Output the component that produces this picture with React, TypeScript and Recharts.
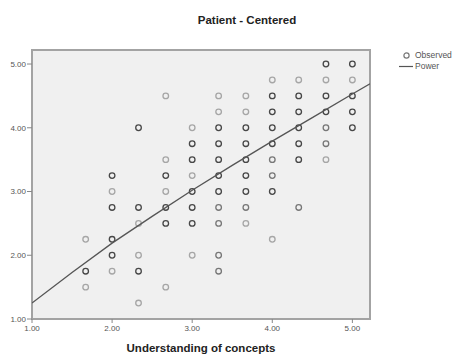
import React from "react";
import {ReferenceArea, Scatter, ScatterChart, XAxis, YAxis} from "recharts";

// x categories (Understanding of concepts)
const understanding = [1.67, 2.0, 2.33, 2.67, 3.0, 3.33, 3.67, 4.0, 4.33, 4.67, 5.0];

// observed Patient - Centered scores for each x column
const centered = [
    [2.25, 1.75, 1.5],
    [3.25, 3.0, 2.75, 2.25, 2.0, 1.75],
    [4.0, 2.75, 2.5, 2.0, 1.75, 1.25],
    [4.5, 3.5, 3.25, 3.0, 2.75, 2.5, 1.5],
    [4.0, 3.75, 3.5, 3.25, 3.0, 2.75, 2.5, 2.0],
    [4.5, 4.25, 4.0, 3.75, 3.5, 3.25, 3.0, 2.75, 2.5, 2.0, 1.75],
    [4.5, 4.25, 4.0, 3.75, 3.5, 3.25, 3.0, 2.75, 2.5],
    [4.75, 4.5, 4.25, 4.0, 3.75, 3.5, 3.25, 3.0, 2.25],
    [4.75, 4.5, 4.25, 4.0, 3.75, 3.5, 2.75],
    [5.0, 4.75, 4.5, 4.25, 4.0, 3.75, 3.5],
    [5.0, 4.75, 4.5, 4.25, 4.0],
];

// how dark each circle looks (stacked cases): 1 light, 2 medium, 3 dark
const overlap = [
    [1, 3, 1],
    [3, 1, 3, 3, 3, 1],
    [3, 3, 1, 1, 3, 1],
    [1, 1, 3, 1, 3, 3, 1],
    [1, 3, 3, 1, 3, 3, 3, 1],
    [1, 1, 3, 3, 3, 3, 3, 2, 2, 2, 2],
    [1, 1, 3, 3, 3, 3, 3, 2, 1],
    [1, 3, 3, 3, 3, 2, 2, 3, 1],
    [1, 3, 3, 3, 3, 3, 2],
    [3, 1, 3, 3, 2, 2, 1],
    [3, 1, 3, 3, 3],
];

// power fit line
const fitX = [1, 1.5, 2, 2.5, 3, 3.5, 4, 4.5, 5, 5.22];
const fitY = [1.25, 1.73, 2.19, 2.61, 3.02, 3.41, 3.79, 4.16, 4.53, 4.69];

const ticks = [1, 2, 3, 4, 5];
const DOMAIN: [number, number] = [1, 5.22];
const SHADES: Record<number, string> = {1: '#a6a6a6', 2: '#777777', 3: '#474747'};
const FONT = '"Liberation Sans", Arial, sans-serif';

const observed = understanding.flatMap((x, i) =>
    centered[i].map((y, j) => ({x, y, n: overlap[i][j]}))
);
const fit = fitX.map((x, i) => ({x, y: fitY[i]}));

const Ring = (props: any) => {
    const {cx, cy, payload} = props;
    return <circle cx={cx} cy={cy} r={2.8} fill="none" stroke={SHADES[payload.n]} strokeWidth={1.3}/>;
};

const NoDot = () => <g/>;

const tickStyle = {fontSize: 8, fill: '#555', fontFamily: FONT};

export default function App() {
    return (
        <div style={{position: 'absolute', left: 0, top: 0, width: 453, height: 355, background: '#fff', fontFamily: FONT}}>
            <div style={{position: 'absolute', left: 147, top: 13, width: 200, textAlign: 'center', fontSize: 11.5, fontWeight: 'bold', lineHeight: '14px', color: '#222'}}>
                Patient - Centered
            </div>
            <ScatterChart width={453} height={355} margin={{top: 50, right: 83, bottom: 0, left: 0}}>
                <ReferenceArea x1={1} x2={5.22} y1={1} y2={5.22} fill="#f0f0f0" fillOpacity={1} stroke="#a3a3a3" strokeWidth={2}/>
                <XAxis type="number" dataKey="x" domain={DOMAIN} ticks={ticks} allowDataOverflow
                       tickFormatter={(v: number) => v.toFixed(2)} height={36} tickSize={4} tickMargin={2}
                       axisLine={false} tickLine={{stroke: '#888'}} tick={tickStyle}/>
                <YAxis type="number" dataKey="y" domain={DOMAIN} ticks={ticks} allowDataOverflow
                       tickFormatter={(v: number) => v.toFixed(2)} width={32} tickSize={5} tickMargin={1}
                       axisLine={false} tickLine={{stroke: '#888'}} tick={tickStyle}/>
                <Scatter data={observed} shape={Ring} isAnimationActive={false}/>
                <Scatter data={fit} shape={NoDot} line={{stroke: '#555', strokeWidth: 1.3}} isAnimationActive={false}/>
            </ScatterChart>
            <div style={{position: 'absolute', left: 0, top: 341, width: 402, textAlign: 'center', fontSize: 11.5, fontWeight: 'bold', lineHeight: '14px', color: '#222'}}>
                Understanding of concepts
            </div>
            <div style={{position: 'absolute', left: 399, top: 50, fontSize: 8.5, color: '#555', lineHeight: '11px', whiteSpace: 'nowrap'}}>
                <div style={{display: 'flex', alignItems: 'center'}}>
                    <svg width={14} height={11}><circle cx={7.5} cy={5.5} r={2.6} fill="none" stroke="#777" strokeWidth={1.2}/></svg>
                    <span style={{marginLeft: 2}}>Observed</span>
                </div>
                <div style={{display: 'flex', alignItems: 'center'}}>
                    <svg width={14} height={11}><line x1={0} x2={14} y1={5.5} y2={5.5} stroke="#555" strokeWidth={1.2}/></svg>
                    <span style={{marginLeft: 2}}>Power</span>
                </div>
            </div>
        </div>
    );
}
